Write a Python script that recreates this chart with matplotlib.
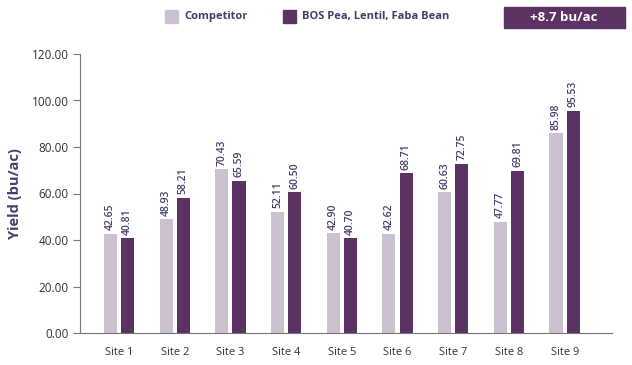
import matplotlib
matplotlib.use("Agg")
import matplotlib.pyplot as plt
import numpy as np
from matplotlib.patches import Rectangle

sites = ["Site 1", "Site 2", "Site 3", "Site 4", "Site 5", "Site 6", "Site 7", "Site 8", "Site 9"]
competitor = [42.65, 48.93, 70.43, 52.11, 42.90, 42.62, 60.63, 47.77, 85.98]
bos = [40.81, 58.21, 65.59, 60.50, 40.70, 68.71, 72.75, 69.81, 95.53]
series_names = ["Competitor", "BOS Pea, Lentil, Faba Bean"]
badge_text = "+8.7 bu/ac"

plt.rcParams['font.family'] = ['Open Sans', 'DejaVu Sans']
c_light = "#cbc1d1"
c_dark = "#5b3263"
txt = "#4b3b6b"

fig = plt.figure(figsize=(6.32, 3.65), dpi=100)
ax = fig.add_axes([80/632, 1-333/365, (612-80)/632, (333-54)/365])

x = np.arange(len(sites))
w = 0.235
off = 0.155
ax.bar(x - off, competitor, w, color=c_light)
ax.bar(x + off, bos, w, color=c_dark)
for xi, v in zip(x, competitor):
    ax.text(xi - off, v + 1.5, f"{v:.2f}", rotation=90, ha='center', va='bottom', fontsize=7.5, color=txt, fontweight='semibold')
for xi, v in zip(x, bos):
    ax.text(xi + off, v + 1.5, f"{v:.2f}", rotation=90, ha='center', va='bottom', fontsize=7.5, color=txt, fontweight='semibold')

ax.set_xlim(-0.7, 8.85)
ax.set_ylim(0, 120)
ax.set_yticks(np.arange(0, 121, 20))
ax.set_yticklabels([f"{t:.2f}" for t in np.arange(0, 121, 20)], fontsize=8.5, color="#333333")
ax.set_xticks(x)
ax.set_xticklabels(sites, fontsize=8, color="#333333")
ax.tick_params(axis='x', length=0, pad=10)
ax.tick_params(axis='y', length=5, width=0.8, color="#777777", direction='out', pad=3)
for s in ['top', 'right']:
    ax.spines[s].set_visible(False)
for s in ['left', 'bottom']:
    ax.spines[s].set_color("#777777")
    ax.spines[s].set_linewidth(0.8)
ax.set_ylabel("Yield (bu/ac)", fontsize=10.5, fontweight='bold', color=txt)
ax.yaxis.set_label_coords(-(80-22)/532, 0.5)

# legend
fig.patches.append(Rectangle((165/632, 1-23/365), 13/632, 13/365, transform=fig.transFigure, color=c_light))
fig.text(184/632, 1-17/365, series_names[0], fontsize=8, fontweight='bold', color=txt, va='center')
fig.patches.append(Rectangle((283/632, 1-23/365), 13/632, 13/365, transform=fig.transFigure, color=c_dark))
fig.text(302/632, 1-17/365, series_names[1], fontsize=8, fontweight='bold', color=txt, va='center')
# badge
fig.patches.append(Rectangle((504/632, 1-28/365), 121/632, 21/365, transform=fig.transFigure, color=c_dark))
fig.text(564/632, 1-17.5/365, badge_text, fontsize=9.5, fontweight='bold', color='white', ha='center', va='center')

fig.savefig("out.png", dpi=100)
